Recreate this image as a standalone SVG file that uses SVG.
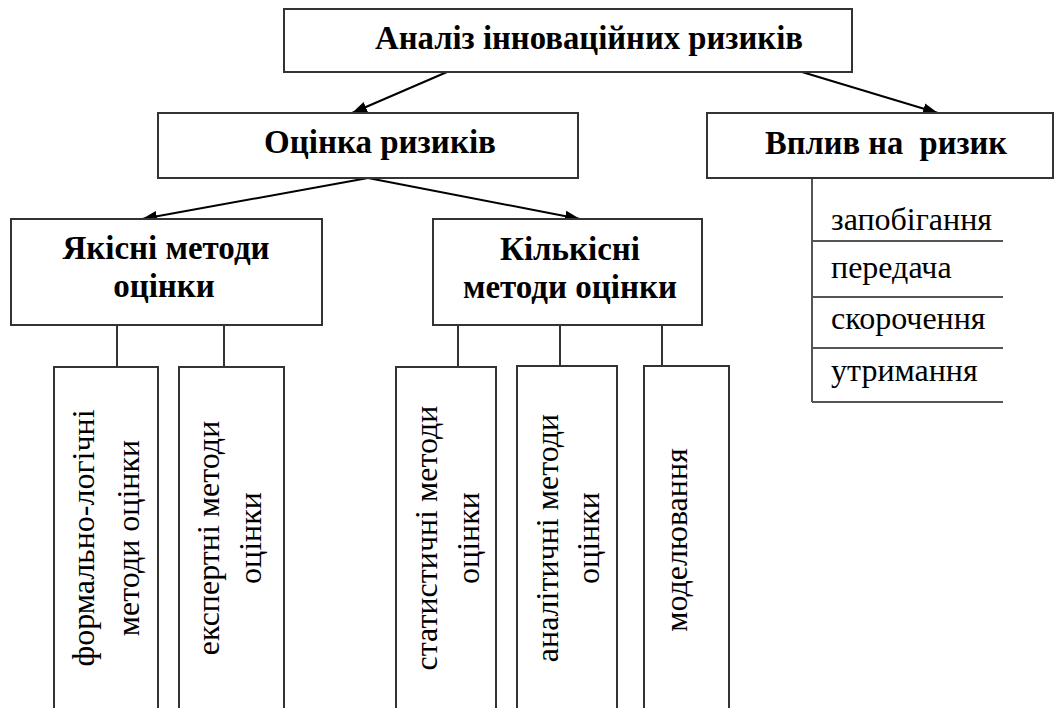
<svg xmlns="http://www.w3.org/2000/svg" width="1059" height="708" viewBox="0 0 1059 708">
<style>
.box{fill:#fff;stroke:#333;stroke-width:2}
.title{font-family:"Liberation Serif","Times New Roman",serif;font-weight:bold;font-size:33px;fill:#000}
.reg{font-family:"Liberation Serif","Times New Roman",serif;font-size:32px;fill:#000}
.arr{stroke:#000;stroke-width:2;fill:none;marker-end:url(#ah)}
.ln{stroke:#333;stroke-width:2;fill:none}
.lst{stroke:#555;stroke-width:2;fill:none}
</style>
<defs>
<marker id="ah" markerUnits="userSpaceOnUse" markerWidth="16" markerHeight="12" refX="15" refY="6" orient="auto">
<path d="M0,0.5 L15,6 L0,11.5 z" fill="#000"/>
</marker>
</defs>
<rect width="1059" height="708" fill="#fff"/>
<g id="connectors">
<line class="arr" x1="447" y1="72" x2="352" y2="113"/>
<line class="arr" x1="802" y1="72" x2="938" y2="113"/>
<line class="arr" x1="368" y1="178" x2="142" y2="219"/>
<line class="arr" x1="368" y1="178" x2="580" y2="219"/>
<line class="ln" x1="117" y1="325" x2="117" y2="367"/>
<line class="ln" x1="224" y1="325" x2="224" y2="367"/>
<line class="ln" x1="458" y1="325" x2="458" y2="367"/>
<line class="ln" x1="560" y1="325" x2="560" y2="366"/>
<line class="ln" x1="662" y1="325" x2="662" y2="366"/>
<line class="lst" x1="812" y1="178" x2="812" y2="402"/>
</g>
<g id="n-analiz">
<rect class="box" x="284" y="9" width="568" height="63"/>
<text class="title" x="589" y="49" text-anchor="middle" textLength="428" lengthAdjust="spacingAndGlyphs">Аналіз інноваційних ризиків</text>
</g>
<g id="n-otsinka">
<rect class="box" x="158" y="113" width="420" height="65"/>
<text class="title" x="380" y="153" text-anchor="middle">Оцінка ризиків</text>
</g>
<g id="n-vplyv">
<rect class="box" x="707" y="113" width="346" height="65"/>
<text class="title" x="886" y="154" text-anchor="middle" xml:space="preserve" textLength="242" lengthAdjust="spacingAndGlyphs">Вплив на  ризик</text>
</g>
<g id="n-vplyv-list">
<line class="lst" x1="812" y1="241" x2="1003" y2="241"/>
<line class="lst" x1="812" y1="297" x2="1003" y2="297"/>
<line class="lst" x1="812" y1="348" x2="1003" y2="348"/>
<line class="lst" x1="812" y1="402" x2="1003" y2="402"/>
<text class="reg" x="831" y="230">запобігання</text>
<text class="reg" x="831" y="278">передача</text>
<text class="reg" x="831" y="329">скорочення</text>
<text class="reg" x="831" y="381">утримання</text>
</g>
<g id="n-yakisni">
<rect class="box" x="11" y="219" width="311" height="106"/>
<text class="title" x="166" y="259" text-anchor="middle">Якісні методи</text>
<text class="title" x="164" y="297" text-anchor="middle">оцінки</text>
</g>
<g id="n-kilkisni">
<rect class="box" x="433" y="219" width="269" height="106"/>
<text class="title" x="570" y="260" text-anchor="middle">Кількісні</text>
<text class="title" x="570" y="298" text-anchor="middle">методи оцінки</text>
</g>
<g id="n-formalno">
<rect class="box" x="54" y="367" width="104" height="360"/>
<text class="reg" text-anchor="middle" transform="translate(94,538) rotate(-90)">формально-логічні</text>
<text class="reg" text-anchor="middle" transform="translate(139,538) rotate(-90)">методи оцінки</text>
</g>
<g id="n-ekspertni">
<rect class="box" x="179" y="367" width="105" height="360"/>
<text class="reg" text-anchor="middle" transform="translate(219,538) rotate(-90)">експертні методи</text>
<text class="reg" text-anchor="middle" transform="translate(261,538) rotate(-90)">оцінки</text>
</g>
<g id="n-statystychni">
<rect class="box" x="396" y="367" width="100" height="360"/>
<text class="reg" text-anchor="middle" transform="translate(437,538) rotate(-90)">статистичні методи</text>
<text class="reg" text-anchor="middle" transform="translate(479,538) rotate(-90)">оцінки</text>
</g>
<g id="n-analitychni">
<rect class="box" x="517" y="366" width="100" height="360"/>
<text class="reg" text-anchor="middle" transform="translate(558,538) rotate(-90)">аналітичні методи</text>
<text class="reg" text-anchor="middle" transform="translate(599,538) rotate(-90)">оцінки</text>
</g>
<g id="n-modeliuvannia">
<rect class="box" x="644" y="366" width="85" height="360"/>
<text class="reg" text-anchor="middle" transform="translate(687,540) rotate(-90)">моделювання</text>
</g>
</svg>
